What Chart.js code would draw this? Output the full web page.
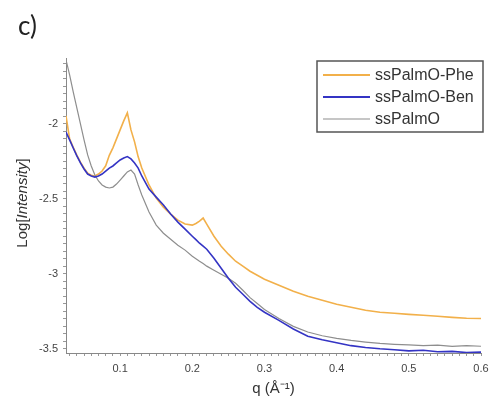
<!DOCTYPE html>
<html lang="en">
<head>
  <meta charset="UTF-8" />
  <title>SAXS curves</title>
  <script src="https://cdn.jsdelivr.net/npm/chart.js"></script>
  <style>
    body { margin: 0; background: #fff; }
    .wrap { position: relative; width: 490px; height: 401px; }
    .panel { position: absolute; left: 18px; top: 9px; font: 26px Lato, "Liberation Sans", sans-serif; color: #222; }
    .ylab {
      position: absolute; left: 21px; top: 203px;
      transform: translate(-50%, -50%) rotate(-90deg);
      font: 15px "Liberation Sans", Arial, sans-serif; color: #333; white-space: nowrap;
    }
    canvas { position: absolute; left: 0; top: 0; }
  </style>
</head>
<body>
  <div class="wrap">
    <canvas id="saxs" width="490" height="401"></canvas>
    <div class="panel">c)</div>
    <div class="ylab">Log[<i>Intensity</i>]</div>
  </div>

  <script>
    // q values (1/Å) shared by all three curves
    const q = [0.025, 0.03, 0.035, 0.04, 0.045, 0.05, 0.055, 0.06, 0.065, 0.07, 0.075, 0.08, 0.085, 0.09,
      0.095, 0.1, 0.105, 0.11, 0.115, 0.12, 0.125, 0.13, 0.14, 0.15, 0.16, 0.17, 0.18, 0.19, 0.2,
      0.205, 0.21, 0.215, 0.22, 0.23, 0.24, 0.25, 0.26, 0.27, 0.28, 0.29, 0.3,
      0.32, 0.34, 0.36, 0.38, 0.4, 0.42, 0.44, 0.46, 0.48, 0.5, 0.52, 0.54, 0.56, 0.58, 0.6];

    const phe = [-1.946, -2.100, -2.156, -2.209, -2.256, -2.296, -2.330, -2.343, -2.348, -2.335, -2.315, -2.280, -2.210, -2.160,
      -2.100, -2.040, -1.980, -1.926, -2.040, -2.120, -2.220, -2.295, -2.408, -2.495, -2.556, -2.602, -2.643, -2.669, -2.676,
      -2.665, -2.649, -2.629, -2.669, -2.750, -2.817, -2.870, -2.917, -2.950, -2.984, -3.011, -3.037,
      -3.078, -3.118, -3.151, -3.178, -3.205, -3.225, -3.245, -3.258, -3.265, -3.272, -3.278, -3.285, -3.292, -3.298, -3.300];

    const ben = [-2.054, -2.107, -2.161, -2.214, -2.261, -2.301, -2.335, -2.348, -2.355, -2.348, -2.335, -2.315, -2.295, -2.281,
      -2.261, -2.241, -2.228, -2.218, -2.234, -2.261, -2.295, -2.348, -2.435, -2.489, -2.542, -2.602, -2.656, -2.703, -2.750,
      -2.773, -2.797, -2.817, -2.837, -2.897, -2.964, -3.031, -3.091, -3.138, -3.185, -3.225, -3.258,
      -3.312, -3.370, -3.418, -3.442, -3.462, -3.481, -3.493, -3.502, -3.508, -3.516, -3.512, -3.522, -3.519, -3.527, -3.524];

    const palmo = [-1.572, -1.672, -1.786, -1.893, -2.000, -2.107, -2.207, -2.281, -2.341, -2.381, -2.408, -2.422, -2.428, -2.422,
      -2.402, -2.375, -2.348, -2.321, -2.308, -2.335, -2.408, -2.475, -2.589, -2.676, -2.730, -2.770, -2.810, -2.843, -2.884,
      -2.900, -2.917, -2.933, -2.950, -2.977, -3.004, -3.031, -3.064, -3.111, -3.160, -3.200, -3.240,
      -3.300, -3.352, -3.390, -3.415, -3.432, -3.446, -3.457, -3.466, -3.472, -3.476, -3.481, -3.478, -3.486, -3.481, -3.485];

    const names = ['ssPalmO-Phe', 'ssPalmO-Ben', 'ssPalmO'];
    const colors = ['#f2b04a', '#3434c4', '#8e8e8e'];

    const xMajor = [0.1, 0.2, 0.3, 0.4, 0.5, 0.6];
    const yMajor = [-2, -2.5, -3, -3.5];

    const pts = arr => arr.map((v, i) => ({ x: q[i], y: v }));
    const isMajor = (v, list) => list.some(m => Math.abs(m - v) < 1e-6);

    // boxed legend drawn inside the plot, top right
    const boxLegend = {
      id: 'boxLegend',
      afterDatasetsDraw(chart) {
        const { ctx, chartArea } = chart;
        const w = 166, h = 71;
        const x0 = chartArea.right + 2 - w, y0 = chartArea.top + 3;
        ctx.save();
        ctx.fillStyle = '#fff';
        ctx.fillRect(x0, y0, w, h);
        ctx.strokeStyle = '#555';
        ctx.lineWidth = 1.5;
        ctx.strokeRect(x0, y0, w, h);
        ctx.font = '16px "Liberation Sans", Arial, sans-serif';
        ctx.textBaseline = 'middle';
        chart.data.datasets.forEach((ds, i) => {
          const yy = y0 + 14 + i * 22;
          ctx.strokeStyle = ds.borderColor;
          ctx.lineWidth = i === 2 ? 1.2 : 2;
          ctx.beginPath();
          ctx.moveTo(x0 + 6, yy);
          ctx.lineTo(x0 + 53, yy);
          ctx.stroke();
          ctx.fillStyle = '#333';
          ctx.fillText(ds.label, x0 + 58, yy + 1);
        });
        ctx.restore();
      }
    };

    const tickFont = { family: '"Liberation Sans", Arial, sans-serif', size: 11 };

    new Chart(document.getElementById('saxs'), {
      type: 'line',
      data: {
        datasets: [
          { label: names[0], data: pts(phe), borderColor: colors[0], borderWidth: 1.6, order: 3 },
          { label: names[1], data: pts(ben), borderColor: colors[1], borderWidth: 1.6, order: 1 },
          { label: names[2], data: pts(palmo), borderColor: colors[2], borderWidth: 1.2, order: 2 }
        ]
      },
      options: {
        responsive: false,
        animation: false,
        events: [],
        elements: { point: { radius: 0 }, line: { tension: 0 } },
        layout: { padding: { top: 58, right: 9, left: 0, bottom: 0 } },
        plugins: { legend: { display: false }, tooltip: { enabled: false } },
        scales: {
          x: {
            type: 'linear',
            min: 0.025,
            max: 0.6,
            afterFit: s => { s.height = 48; s.paddingLeft = 0; s.paddingRight = 0; },
            border: { color: '#888', width: 1 },
            grid: { drawOnChartArea: false, tickLength: 3, color: '#999' },
            ticks: {
              stepSize: 0.01,
              includeBounds: false,
              autoSkip: false,
              maxRotation: 0,
              padding: 6,
              color: '#444',
              font: tickFont,
              callback: v => isMajor(v, xMajor) ? String(Math.round(v * 10) / 10) : ''
            },
            title: {
              display: true,
              text: 'q (Å⁻¹)',
              color: '#333',
              padding: { top: 0, bottom: 3 },
              font: { family: '"Liberation Sans", Arial, sans-serif', size: 15 }
            }
          },
          y: {
            min: -3.53,
            max: -1.56,
            afterFit: s => { s.width = 66; s.paddingTop = 0; s.paddingBottom = 0; },
            border: { color: '#888', width: 1 },
            grid: { drawOnChartArea: false, tickLength: 3, color: '#999' },
            ticks: {
              stepSize: 0.05,
              includeBounds: false,
              autoSkip: false,
              padding: 5,
              color: '#444',
              font: tickFont,
              callback: v => isMajor(v, yMajor) ? String(Math.round(v * 10) / 10) : ''
            }
          }
        }
      },
      plugins: [boxLegend]
    });
  </script>
</body>
</html>
